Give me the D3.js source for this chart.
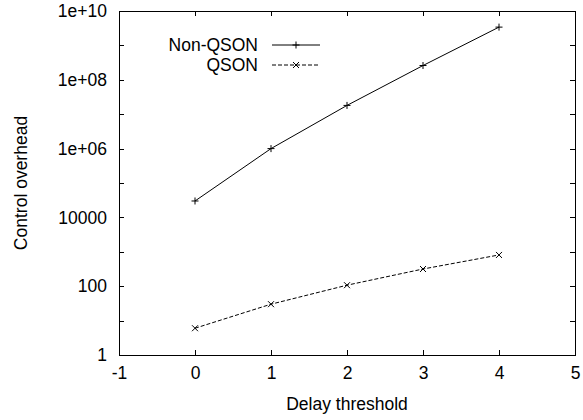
<!DOCTYPE html>
<html lang="en">
<head>
    <meta charset="UTF-8">
    <title>Control overhead vs delay threshold</title>
    <script src="https://d3js.org/d3.v7.min.js"></script>
    <style>
        body {
            margin: 0;
            padding: 0;
            background: #fff;
            overflow: hidden;
        }
        svg text {
            font-family: "Liberation Sans", Arial, Helvetica, sans-serif;
            font-size: 17.5px;
            fill: #000;
        }
        .axis path, .axis line {
            stroke: #000;
            shape-rendering: crispEdges;
        }
    </style>
</head>
<body>
<div id="chart"></div>
<script>
    // data
    const delays = [0, 1, 2, 3, 4];
    const nonQsonValues = [3.0e4, 1.0e6, 1.8e7, 2.6e8, 3.4e9];
    const qsonValues = [6, 30, 107, 316, 810];

    const xTicks = [-1, 0, 1, 2, 3, 4, 5];
    const yTicks = [1, 1e2, 1e4, 1e6, 1e8, 1e10];
    const yTickLabels = ["1", "100", "10000", "1e+06", "1e+08", "1e+10"];
    const yMinorTicks = [1e1, 1e3, 1e5, 1e7, 1e9];

    const seriesNames = ["Non-QSON", "QSON"];

    const width = 583, height = 420;
    const margin = {top: 11, right: 8, bottom: 65, left: 119};

    const svg = d3.select("#chart").append("svg")
        .attr("width", width)
        .attr("height", height);

    const x = d3.scaleLinear()
        .domain([-1, 5])
        .range([margin.left, width - margin.right]);

    const y = d3.scaleLog()
        .domain([1, 1e10])
        .range([height - margin.bottom, margin.top]);

    const tick = 5;

    // bottom axis with labels, ticks pointing inward
    const xAxis = svg.append("g")
        .attr("class", "axis")
        .attr("transform", `translate(0,${y(1)})`)
        .call(d3.axisBottom(x).tickValues(xTicks).tickSizeInner(-tick).tickSizeOuter(0)
            .tickPadding(12).tickFormat(d => String(d)));
    xAxis.selectAll("text").attr("dy", "0.71em");

    // top mirror
    svg.append("g")
        .attr("class", "axis")
        .attr("transform", `translate(0,${y(1e10)})`)
        .call(d3.axisTop(x).tickValues(xTicks).tickSizeInner(-tick).tickSizeOuter(0).tickFormat(""));

    // left axis
    svg.append("g")
        .attr("class", "axis")
        .attr("transform", `translate(${x(-1)},0)`)
        .call(d3.axisLeft(y).tickValues(yTicks).tickSizeInner(-tick).tickSizeOuter(0)
            .tickPadding(12).tickFormat((d, i) => yTickLabels[i]));

    svg.append("g")
        .attr("class", "axis")
        .attr("transform", `translate(${x(-1)},0)`)
        .call(d3.axisLeft(y).tickValues(yMinorTicks).tickSizeInner(-tick).tickSizeOuter(0).tickFormat(""));

    // right mirror
    svg.append("g")
        .attr("class", "axis")
        .attr("transform", `translate(${x(5)},0)`)
        .call(d3.axisRight(y).tickValues(yTicks.concat(yMinorTicks)).tickSizeInner(-tick).tickSizeOuter(0).tickFormat(""));

    svg.selectAll(".axis .domain").remove();

    // frame
    svg.append("rect")
        .attr("x", x(-1))
        .attr("y", y(1e10))
        .attr("width", x(5) - x(-1))
        .attr("height", y(1) - y(1e10))
        .attr("fill", "none")
        .attr("stroke", "#000")
        .attr("shape-rendering", "crispEdges");

    // axis titles
    svg.append("text")
        .attr("x", (x(-1) + x(5)) / 2)
        .attr("y", 410)
        .attr("text-anchor", "middle")
        .text("Delay threshold");

    svg.append("text")
        .attr("transform", `translate(27,${(y(1) + y(1e10)) / 2}) rotate(-90)`)
        .attr("text-anchor", "middle")
        .text("Control overhead");

    // series
    const line = d3.line()
        .x(d => x(d[0]))
        .y(d => y(d[1]));

    const nonQson = delays.map((d, i) => [d, nonQsonValues[i]]);
    const qson = delays.map((d, i) => [d, qsonValues[i]]);

    svg.append("path")
        .datum(nonQson)
        .attr("fill", "none")
        .attr("stroke", "#000")
        .attr("stroke-width", 1)
        .attr("d", line);

    svg.append("path")
        .datum(qson)
        .attr("fill", "none")
        .attr("stroke", "#000")
        .attr("stroke-width", 1)
        .attr("stroke-dasharray", "4,2")
        .attr("d", line);

    function plus(g, cx, cy) {
        g.append("path")
            .attr("d", `M${cx - 3.5},${cy}H${cx + 3.5}M${cx},${cy - 3.5}V${cy + 3.5}`)
            .attr("stroke", "#000").attr("stroke-width", 1);
    }
    function cross(g, cx, cy) {
        g.append("path")
            .attr("d", `M${cx - 3},${cy - 3}L${cx + 3},${cy + 3}M${cx - 3},${cy + 3}L${cx + 3},${cy - 3}`)
            .attr("stroke", "#000").attr("stroke-width", 1);
    }

    const marks = svg.append("g");
    nonQson.forEach(d => plus(marks, x(d[0]), y(d[1])));
    qson.forEach(d => cross(marks, x(d[0]), y(d[1])));

    // legend
    const legend = svg.append("g");
    const legendRows = [
        {name: seriesNames[0], dash: null, mark: plus, y: 45},
        {name: seriesNames[1], dash: "4,2", mark: cross, y: 65}
    ];
    legendRows.forEach(r => {
        legend.append("text")
            .attr("x", 258)
            .attr("y", r.y)
            .attr("dy", "0.35em")
            .attr("text-anchor", "end")
            .text(r.name);
        legend.append("line")
            .attr("x1", 272).attr("x2", 320)
            .attr("y1", r.y).attr("y2", r.y)
            .attr("stroke", "#000")
            .attr("stroke-dasharray", r.dash);
        r.mark(legend, 296, r.y);
    });
</script>
</body>
</html>
